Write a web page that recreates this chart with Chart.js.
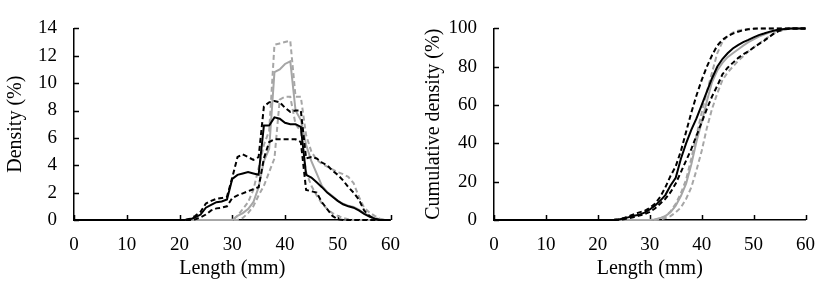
<!DOCTYPE html>
<html>
<head>
<meta charset="utf-8">
<script src="https://cdn.jsdelivr.net/npm/chart.js@4.4.0/dist/chart.umd.min.js"></script>
<style>
    html, body { margin: 0; padding: 0; background: #fff; }
    #wrap { position: relative; width: 829px; height: 285px; }
    .panel { position: absolute; top: 0; height: 285px; }
    #density-panel { left: 0; width: 414px; }
    #cumulative-panel { left: 420px; width: 409px; }
</style>
</head>
<body>
<div id="wrap">
    <div class="panel" id="density-panel"><canvas id="density-chart"></canvas></div>
    <div class="panel" id="cumulative-panel"><canvas id="cumulative-chart"></canvas></div>
</div>
<script>
// length (mm): 0, then 20..60
var lengths = [0,
    20, 21, 22, 23, 24, 25, 26, 27, 28, 29,
    30, 31, 32, 33, 34, 35, 36, 37, 38, 39,
    40, 41, 42, 43, 44, 45, 46, 47, 48, 49,
    50, 51, 52, 53, 54, 55, 56, 57, 58, 59,
    60];

// density (%)
var densityBlack = [0,
    0, 0, 0.05, 0.2, 0.4, 0.9, 1.1, 1.3, 1.35, 1.5,
    3.0, 3.3, 3.4, 3.5, 3.4, 3.3, 6.9, 6.9, 7.5, 7.4,
    7.1, 7.0, 7.0, 6.8, 3.3, 3.1, 2.75, 2.4, 2.0, 1.7,
    1.4, 1.15, 1.0, 0.9, 0.7, 0.45, 0.25, 0.1, 0, 0,
    0];
var densityBlackUpper = [0,
    0, 0, 0.1, 0.3, 0.6, 1.2, 1.4, 1.55, 1.6, 1.7,
    3.1, 4.6, 4.8, 4.6, 4.4, 4.6, 8.3, 8.6, 8.7, 8.6,
    8.2, 7.9, 8.0, 8.0, 4.5, 4.6, 4.5, 4.2, 4.0, 3.6,
    3.3, 2.9, 2.4, 2.0, 1.5, 0.7, 0.3, 0.05, 0, 0,
    0];
var densityBlackLower = [0,
    0, 0, 0, 0.05, 0.2, 0.4, 0.7, 0.85, 0.9, 1.0,
    1.6, 1.8, 1.95, 2.1, 2.25, 2.4, 4.5, 5.7, 5.9, 5.9,
    5.9, 5.9, 5.9, 5.7, 2.2, 2.1, 2.0, 1.3, 0.8, 0.3,
    0.05, 0, 0, 0, 0, 0, 0, 0, 0, 0,
    0];
var densityGrey = [0,
    0, 0, 0, 0, 0, 0, 0, 0, 0, 0,
    0, 0.3, 0.5, 0.8, 1.3, 2.4, 4.3, 5.2, 10.8, 11.0,
    11.4, 11.6, 8.0, 7.3, 5.5, 4.3, 3.4, 2.5, 2.05, 1.75,
    1.4, 1.2, 1.05, 0.95, 0.75, 0.5, 0.3, 0.15, 0.05, 0,
    0];
var densityGreyUpper = [0,
    0, 0, 0, 0, 0, 0, 0, 0, 0, 0,
    0, 0.3, 0.8, 1.3, 2.2, 3.8, 5.5, 6.5, 12.8, 12.9,
    13.0, 13.1, 9.0, 9.0, 6.2, 5.0, 4.4, 4.1, 3.9, 3.7,
    3.5, 3.35, 3.15, 2.7, 1.7, 0.9, 0.55, 0.3, 0.1, 0,
    0];
var densityGreyLower = [0,
    0, 0, 0, 0, 0, 0, 0, 0, 0, 0,
    0, 0, 0.15, 0.5, 1.0, 1.8, 2.5, 3.5, 4.5, 8.8,
    9.0, 9.0, 7.0, 6.5, 3.5, 2.5, 1.8, 1.2, 0.8, 0.5,
    0.3, 0.15, 0.05, 0, 0, 0, 0, 0, 0, 0,
    0];

// cumulative density (%)
var cumulativeBlack = [0,
    0, 0, 0, 0, 0.3, 0.8, 1.5, 2.2, 2.8, 3.8,
    5.5, 7.5, 10, 13, 18, 22, 32, 40, 47, 53,
    60, 67, 74, 80, 84, 87, 89.5, 91.3, 92.8, 94,
    95.3, 96.5, 97.3, 98.2, 98.9, 99.4, 99.7, 99.9, 100, 100,
    100];
var cumulativeBlackUpper = [0,
    0, 0, 0, 0.1, 0.4, 1, 2, 3, 4, 4.8,
    6.3, 8.5, 12, 17, 23, 28, 36, 46, 56, 65,
    73, 80, 86, 91, 94, 96, 97.3, 98.3, 99, 99.5,
    99.8, 100, 100, 100, 100, 100, 100, 100, 100, 100,
    100];
var cumulativeBlackLower = [0,
    0, 0, 0, 0, 0.1, 0.4, 1, 1.6, 2.3, 3,
    4.2, 6, 8.5, 11, 14.5, 19, 25, 31, 37, 44,
    51, 58, 64.5, 70, 76, 79.5, 82, 84.5, 86.5, 88,
    90, 91.8, 93.5, 95.5, 97.5, 98.8, 99.5, 99.8, 100, 100,
    100];
var cumulativeGrey = [0,
    0, 0, 0, 0, 0, 0, 0, 0, 0, 0,
    0, 0.3, 1, 2, 4, 7.5, 12.5, 19, 29, 41,
    51, 62, 72, 78, 82, 85, 87, 89, 91, 92.8,
    94.3, 95.7, 96.8, 97.8, 98.6, 99.2, 99.6, 99.8, 100, 100,
    100];
var cumulativeGreyUpper = [0,
    0, 0, 0, 0, 0, 0, 0, 0, 0, 0,
    0, 0.2, 0.8, 2, 4.5, 8.5, 14, 21, 32, 44,
    56, 67, 77, 87, 93, 96, 97.8, 98.8, 99.4, 99.7,
    99.9, 100, 100, 100, 100, 100, 100, 100, 100, 100,
    100];
var cumulativeGreyLower = [0,
    0, 0, 0, 0, 0, 0, 0, 0, 0, 0,
    0, 0, 0.3, 1, 2, 4, 6.5, 11, 17, 26,
    36, 48, 58, 66, 73, 77, 80, 83, 85.5, 88,
    90, 92, 94, 95.8, 97.5, 98.7, 99.4, 99.8, 100, 100,
    100];

var xTicks = [0, 10, 20, 30, 40, 50, 60];

var BLACK = '#000000';
var GREY = '#a6a6a6';
var FONT = 'Liberation Serif, Times New Roman, serif';

function toPoints(values) {
    return values.map(function (v, i) {
        return { x: lengths[i], y: v };
    });
}

function series(values, color, dashed) {
    return {
        data: toPoints(values),
        borderColor: color,
        borderWidth: 2,
        borderDash: dashed ? [5, 3] : [],
        pointRadius: 0,
        tension: 0,
        fill: false,
        clip: false
    };
}

// ticks in the original point inwards, chart.js draws them outwards
var innerTicks = {
    id: 'innerTicks',
    beforeDatasetsDraw: function (chart) {
        var ctx = chart.ctx;
        var xs = chart.scales.x;
        var ys = chart.scales.y;
        ctx.save();
        ctx.strokeStyle = BLACK;
        ctx.lineWidth = 1.5;
        ctx.beginPath();
        xs.ticks.forEach(function (t) {
            var px = Math.round(xs.getPixelForValue(t.value)) + 0.5;
            ctx.moveTo(px, ys.bottom);
            ctx.lineTo(px, ys.bottom - 5);
        });
        ys.ticks.forEach(function (t) {
            var py = Math.round(ys.getPixelForValue(t.value)) + 0.5;
            ctx.moveTo(xs.left, py);
            ctx.lineTo(xs.left + 5, py);
        });
        ctx.stroke();
        ctx.restore();
    }
};

function makeChart(canvasId, datasets, yMax, yStep, yTitle, rightPad, yTitlePad) {
    return new Chart(document.getElementById(canvasId), {
        type: 'line',
        data: { datasets: datasets },
        plugins: [innerTicks],
        options: {
            responsive: true,
            maintainAspectRatio: false,
            devicePixelRatio: 1,
            animation: false,
            events: [],
            layout: {
                autoPadding: false,
                padding: { top: 11, right: rightPad, bottom: 0, left: 0 }
            },
            plugins: {
                legend: { display: false },
                tooltip: { enabled: false }
            },
            scales: {
                x: {
                    type: 'linear',
                    min: 0,
                    max: 60,
                    afterBuildTicks: function (scale) {
                        scale.ticks = xTicks.map(function (v) { return { value: v }; });
                    },
                    afterFit: function (scale) { scale.height = 65; },
                    grid: { display: true, drawOnChartArea: false, drawTicks: false },
                    border: { display: true, color: BLACK, width: 1.5 },
                    ticks: {
                        color: BLACK,
                        padding: 14,
                        maxRotation: 0,
                        font: { family: FONT, size: 19 }
                    },
                    title: {
                        display: true,
                        text: 'Length (mm)',
                        color: BLACK,
                        padding: { top: 0, bottom: 4 },
                        font: { family: FONT, size: 20 }
                    }
                },
                y: {
                    min: 0,
                    max: yMax,
                    afterFit: function (scale) { scale.width = 74; },
                    grid: { display: true, drawOnChartArea: false, drawTicks: false },
                    border: { display: true, color: BLACK, width: 1.5 },
                    ticks: {
                        color: BLACK,
                        stepSize: yStep,
                        padding: 17,
                        font: { family: FONT, size: 19 }
                    },
                    title: {
                        display: true,
                        text: yTitle,
                        color: BLACK,
                        padding: { top: yTitlePad, bottom: 0 },
                        font: { family: FONT, size: 20 }
                    }
                }
            }
        }
    });
}

// black first so it is painted on top of the grey
makeChart('density-chart', [
    series(densityBlack, BLACK, false),
    series(densityBlackUpper, BLACK, true),
    series(densityBlackLower, BLACK, true),
    series(densityGrey, GREY, false),
    series(densityGreyUpper, GREY, true),
    series(densityGreyLower, GREY, true)
], 14, 2, 'Density (%)', 20, 4);

makeChart('cumulative-chart', [
    series(cumulativeBlack, BLACK, false),
    series(cumulativeBlackUpper, BLACK, true),
    series(cumulativeBlackLower, BLACK, true),
    series(cumulativeGrey, GREY, false),
    series(cumulativeGreyUpper, GREY, true),
    series(cumulativeGreyLower, GREY, true)
], 100, 20, 'Cumulative density (%)', 13, 2);
</script>
</body>
</html>
